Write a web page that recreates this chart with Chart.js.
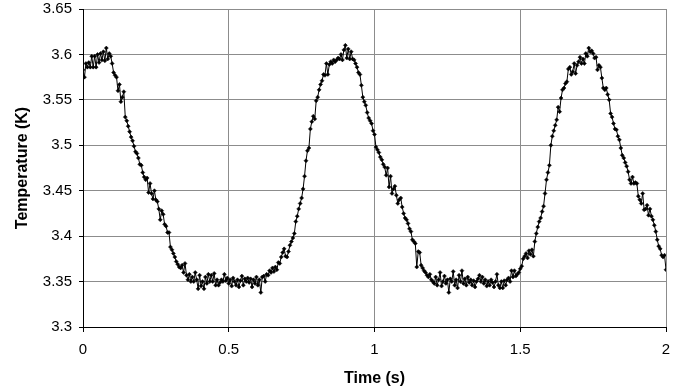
<!DOCTYPE html>
<html>
<head>
<meta charset="utf-8">
<script src="https://cdn.jsdelivr.net/npm/chart.js@4.4.1/dist/chart.umd.min.js"></script>
<style>
  html, body { margin: 0; padding: 0; background: #fff; }
  #wrap { width: 689px; height: 391px; }
</style>
</head>
<body>
<div id="wrap"><canvas id="tempChart" width="689" height="391"></canvas></div>
<script>
// sampling of the trace (one reading every 5 ms)
const startTime = 0;
const sampleStep = 0.005;

// temperature readings (K), 10 per line = 0.05 s per line
const temperature = [
  3.583, 3.575, 3.590, 3.586, 3.591, 3.586, 3.598, 3.586, 3.598, 3.586,
  3.600, 3.591, 3.601, 3.594, 3.603, 3.593, 3.607, 3.595, 3.601, 3.598,
  3.590, 3.580, 3.577, 3.575, 3.560, 3.567, 3.548, 3.553, 3.559, 3.531,
  3.527, 3.521, 3.515, 3.509, 3.505, 3.499, 3.493, 3.491, 3.486, 3.479,
  3.478, 3.470, 3.465, 3.462, 3.464, 3.448, 3.458, 3.447, 3.441, 3.450,
  3.440, 3.438, 3.430, 3.418, 3.428, 3.424, 3.413, 3.411, 3.404, 3.404,
  3.388, 3.385, 3.381, 3.377, 3.372, 3.369, 3.366, 3.365, 3.368, 3.360,
  3.370, 3.357, 3.352, 3.358, 3.350, 3.355, 3.350, 3.360, 3.352, 3.342,
  3.357, 3.345, 3.350, 3.342, 3.355, 3.348, 3.358, 3.350, 3.357, 3.350,
  3.359, 3.346, 3.352, 3.346, 3.349, 3.352, 3.350, 3.358, 3.351, 3.354,
  3.348, 3.352, 3.345, 3.354, 3.350, 3.346, 3.352, 3.344, 3.351, 3.356,
  3.346, 3.353, 3.350, 3.354, 3.349, 3.353, 3.344, 3.352, 3.348, 3.355,
  3.346, 3.352, 3.338, 3.355, 3.356, 3.350, 3.358, 3.357, 3.362, 3.360,
  3.365, 3.361, 3.366, 3.363, 3.371, 3.370, 3.377, 3.382, 3.386, 3.378,
  3.377, 3.383, 3.390, 3.394, 3.398, 3.403, 3.416, 3.422, 3.430, 3.436,
  3.442, 3.452, 3.466, 3.483, 3.494, 3.497, 3.518, 3.526, 3.532, 3.529,
  3.549, 3.553, 3.561, 3.567, 3.571, 3.578, 3.577, 3.590, 3.578, 3.589,
  3.592, 3.590, 3.594, 3.592, 3.594, 3.596, 3.595, 3.600, 3.594, 3.605,
  3.610, 3.596, 3.606, 3.595, 3.603, 3.595, 3.594, 3.590, 3.586, 3.580,
  3.578, 3.566, 3.553, 3.548, 3.544, 3.536, 3.530, 3.527, 3.524, 3.516,
  3.512, 3.498, 3.495, 3.492, 3.487, 3.484, 3.479, 3.476, 3.467, 3.475,
  3.454, 3.466, 3.447, 3.452, 3.455, 3.445, 3.436, 3.440, 3.442, 3.432,
  3.425, 3.420, 3.418, 3.414, 3.408, 3.405, 3.396, 3.394, 3.392, 3.366,
  3.383, 3.382, 3.368, 3.365, 3.362, 3.360, 3.357, 3.355, 3.358, 3.352,
  3.350, 3.348, 3.355, 3.346, 3.352, 3.360, 3.345, 3.350, 3.356, 3.348,
  3.352, 3.338, 3.353, 3.350, 3.361, 3.346, 3.352, 3.343, 3.357, 3.350,
  3.362, 3.348, 3.353, 3.346, 3.355, 3.349, 3.352, 3.346, 3.351, 3.344,
  3.350, 3.353, 3.357, 3.350, 3.355, 3.348, 3.352, 3.345, 3.350, 3.346,
  3.352, 3.349, 3.344, 3.350, 3.358, 3.346, 3.343, 3.350, 3.343, 3.351,
  3.346, 3.352, 3.354, 3.350, 3.362, 3.355, 3.362, 3.356, 3.358, 3.360,
  3.364, 3.367, 3.375, 3.378, 3.381, 3.376, 3.384, 3.380, 3.385, 3.378,
  3.394, 3.403, 3.410, 3.416, 3.420, 3.427, 3.433, 3.447, 3.462, 3.470,
  3.478, 3.500, 3.510, 3.516, 3.522, 3.528, 3.542, 3.537, 3.552, 3.561,
  3.563, 3.568, 3.570, 3.584, 3.586, 3.578, 3.581, 3.590, 3.579, 3.588,
  3.592, 3.597, 3.590, 3.595, 3.590, 3.601, 3.598, 3.607, 3.603, 3.604,
  3.601, 3.596, 3.597, 3.583, 3.588, 3.586, 3.574, 3.563, 3.561, 3.563,
  3.556, 3.550, 3.535, 3.531, 3.524, 3.518, 3.517, 3.510, 3.506, 3.497,
  3.489, 3.486, 3.481, 3.477, 3.471, 3.462, 3.458, 3.465, 3.458, 3.459,
  3.458, 3.444, 3.440, 3.436, 3.447, 3.429, 3.430, 3.434, 3.423, 3.430,
  3.422, 3.418, 3.412, 3.405, 3.396, 3.389, 3.386, 3.379, 3.377, 3.379,
  3.363
];

const xTicks = [0, 0.5, 1, 1.5, 2];
const xTickLabels = ['0', '0.5', '1', '1.5', '2'];
const yTicks = [3.3, 3.35, 3.4, 3.45, 3.5, 3.55, 3.6, 3.65];
const yTickLabels = ['3.3', '3.35', '3.4', '3.45', '3.5', '3.55', '3.6', '3.65'];

const points = temperature.map((v, i) => ({ x: +(startTime + i * sampleStep).toFixed(3), y: v }));

const fontFamily = '"Liberation Sans", Arial, sans-serif';
const gridGray = '#8c8c8c';

new Chart(document.getElementById('tempChart'), {
    type: 'line',
    data: {
        datasets: [{
            data: points,
            borderColor: '#000',
            borderWidth: 1,
            backgroundColor: '#000',
            pointStyle: 'rectRot',
            pointRadius: 2,
            pointBorderWidth: 0.5,
            pointBackgroundColor: '#000',
            pointBorderColor: '#000',
            tension: 0,
            fill: false
        }]
    },
    options: {
        responsive: false,
        devicePixelRatio: 1,
        animation: false,
        layout: { padding: { top: 9, right: 23, left: 0, bottom: 0 } },
        plugins: {
            legend: { display: false },
            tooltip: { enabled: false }
        },
        scales: {
            x: {
                type: 'linear',
                min: 0,
                max: 2,
                afterBuildTicks: (scale) => { scale.ticks = xTicks.map(v => ({ value: v })); },
                afterFit: (scale) => { scale.height = 64; },
                ticks: {
                    autoSkip: false,
                    maxRotation: 0,
                    padding: 9,
                    color: '#000',
                    font: { family: fontFamily, size: 15 },
                    callback: (value, index) => xTickLabels[index]
                },
                grid: { color: gridGray, lineWidth: 1, tickLength: 5, tickColor: '#000', drawTicks: true },
                border: { display: true, color: '#000', width: 1 },
                title: {
                    display: true,
                    text: 'Time (s)',
                    color: '#000',
                    font: { family: fontFamily, size: 16, weight: 'bold' },
                    padding: { top: 0, bottom: 3 }
                }
            },
            y: {
                type: 'linear',
                min: 3.3,
                max: 3.65,
                afterBuildTicks: (scale) => { scale.ticks = yTicks.map(v => ({ value: v })); },
                afterFit: (scale) => {
                    scale.width = 83;
                    // let layout padding set the top of the plot, not the label size
                    scale.paddingTop = 0;
                    scale.paddingBottom = 0;
                },
                ticks: {
                    autoSkip: false,
                    padding: 7,
                    color: '#000',
                    font: { family: fontFamily, size: 15 },
                    callback: (value, index) => yTickLabels[index]
                },
                grid: { color: gridGray, lineWidth: 1, tickLength: 4, tickColor: '#000', drawTicks: true },
                border: { display: true, color: '#000', width: 1 },
                title: {
                    display: true,
                    text: 'Temperature (K)',
                    color: '#000',
                    font: { family: fontFamily, size: 16, weight: 'bold' },
                    padding: { top: 13, bottom: 0 }
                }
            }
        }
    }
});
</script>
</body>
</html>
